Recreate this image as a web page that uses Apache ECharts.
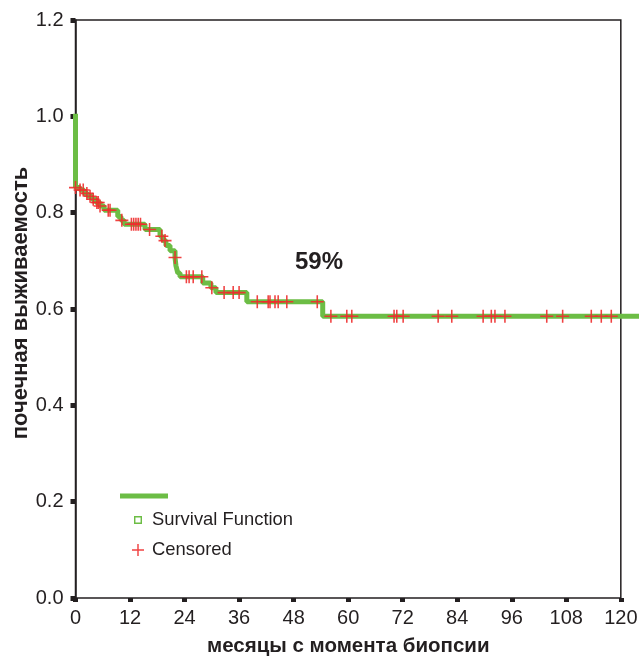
<!DOCTYPE html>
<html>
<head>
<meta charset="utf-8">
<script src="https://cdn.jsdelivr.net/npm/echarts@6/dist/echarts.min.js"></script>
<style>
html, body { margin: 0; padding: 0; background: #fff; }
#chart { width: 639px; height: 656px; }
</style>
</head>
<body>
<div id="chart"></div>
<script>
// Kaplan-Meier steps: [month, survival from that month on]
const survivalSteps = [
	[0, 1.0], [0, 0.852], [1.0, 0.847], [1.9, 0.840], [2.7, 0.834], [3.6, 0.828],
	[4.5, 0.821], [5.4, 0.814], [6.3, 0.805], [9.3, 0.792], [10.0, 0.784], [10.7, 0.776],
	[15.3, 0.765], [18.6, 0.751], [19.2, 0.742], [19.9, 0.732], [20.8, 0.721], [21.9, 0.707],
	[22.1, 0.690], [22.5, 0.675], [23.0, 0.667], [28.0, 0.654], [29.8, 0.644], [30.9, 0.634],
	[37.7, 0.615], [54.4, 0.585], [124, 0.585],
]
// months of censored cases
const censoredMonths = [
	0, 1.0, 1.7, 2.5, 3.2, 3.9, 4.7, 5.0, 5.4, 7.2, 7.6, 10.2, 12.3, 12.8, 13.3, 13.8, 14.3,
	16.3, 19.0, 19.7, 21.9, 24.4, 25.0, 25.9, 27.8, 30.0, 32.7, 34.7, 36.0, 40.0, 42.4, 42.8,
	43.9, 44.6, 46.5, 53.2, 56.2, 59.7, 60.8, 70.1, 70.7, 72.1, 79.8, 82.8, 89.7, 91.5, 92.3,
	94.5, 103.7, 107.2, 113.5, 115.7, 117.9,
]
const xTickValues = [0, 12, 24, 36, 48, 60, 72, 84, 96, 108, 120]
const xAxisEnd = 124 // the curve runs a little past the 120 frame
const yTicks = { min: 0, max: 1.2, interval: 0.2 }
const survivalLabel = '59%'

const green = '#6cbd45'
const red = '#ee2e2e'
const ink = '#231f20'
const font = '"Liberation Sans", Arial, sans-serif'
const plusIcon = 'path://M0,4.4h10v1.2h-10zM4.4,0h1.2v10h-1.2z'
const boxIcon = 'path://M0,0h10v10h-10zM1.8,1.8v6.4h6.4v-6.4z'

// survival at a given month (value of the last step at or before it)
function survivalAt(t) {
	let s = survivalSteps[0][1]
	for (const [m, v] of survivalSteps) {
		if (m <= t) s = v
	}
	return s
}

const censoredPoints = censoredMonths.map((m) => [m, survivalAt(m)])
const frameEnd = xTickValues[xTickValues.length - 1]

const chart = echarts.init(document.getElementById('chart'), null, { renderer: 'canvas' })

const option = {
	animation: false,
	grid: {
		left: 75.5,
		right: 0,
		top: 20,
		bottom: 58,
		outerBoundsMode: 'none',
		containLabel: false,
		show: false,
	},
	xAxis: {
		type: 'value',
		min: 0,
		max: xAxisEnd,
		interval: 12,
		name: 'месяцы с момента биопсии',
		nameLocation: 'middle',
		nameGap: 38,
		nameTextStyle: { fontFamily: font, fontWeight: 'bold', fontSize: 20.5, color: ink, padding: [0, 18, 0, 0] },
		axisLine: { show: false },
		axisTick: { show: true, length: 4, customValues: xTickValues, lineStyle: { color: ink, width: 5 } },
		axisLabel: { fontFamily: font, fontSize: 20, color: ink, margin: 10, customValues: xTickValues },
		splitLine: { show: false },
	},
	yAxis: {
		type: 'value',
		min: yTicks.min,
		max: yTicks.max,
		interval: yTicks.interval,
		name: 'почечная выживаемость',
		nameLocation: 'middle',
		nameMoveOverlap: false,
		nameGap: 44,
		nameTextStyle: { fontFamily: font, fontWeight: 'bold', fontSize: 22, color: ink, padding: [0, 0, 0, 12] },
		axisLine: { show: true, lineStyle: { color: ink, width: 1.5 } },
		axisTick: { show: true, length: 5, lineStyle: { color: ink, width: 5 } },
		axisLabel: {
			fontFamily: font,
			fontSize: 20,
			color: ink,
			margin: 12,
			formatter: (v) => v.toFixed(1),
		},
		splitLine: { show: false },
	},
	legend: [
		{
			data: [{ name: 'Survival Function', icon: boxIcon, itemStyle: { color: green } }],
			left: 129,
			top: 506,
			itemWidth: 8,
			itemHeight: 8,
			textStyle: { fontFamily: font, fontSize: 18.4, color: ink, padding: [0, 0, 0, 5] },
			selectedMode: false,
		},
		{
			data: [{ name: 'Censored', icon: plusIcon, itemStyle: { color: red } }],
			left: 127,
			top: 536,
			itemWidth: 12,
			itemHeight: 12,
			textStyle: { fontFamily: font, fontSize: 18.4, color: ink, padding: [0, 0, 0, 3] },
			selectedMode: false,
		},
	],
	graphic: [
		// line sample above the legend
		{
			type: 'line',
			shape: { x1: 120, y1: 496, x2: 168, y2: 496 },
			style: { stroke: green, lineWidth: 5 },
		},
		{
			type: 'text',
			left: 295,
			top: 250,
			style: { text: survivalLabel, fontFamily: font, fontWeight: 'bold', fontSize: 24, fill: ink },
		},
	],
	series: [
		{
			name: 'Survival Function',
			type: 'line',
			step: 'end',
			data: survivalSteps,
			showSymbol: false,
			clip: false,
			lineStyle: { color: green, width: 5, cap: 'square' },
			itemStyle: { color: green },
			z: 2,
		},
		{
			name: 'Censored',
			type: 'scatter',
			data: censoredPoints,
			symbol: plusIcon,
			symbolSize: 13,
			clip: false,
			itemStyle: { color: red, opacity: 0.9 },
			z: 3,
			// plot frame from 0 to 120 months
			markArea: {
				silent: true,
				itemStyle: { color: 'rgba(0,0,0,0)', borderColor: ink, borderWidth: 1.5 },
				data: [[{ coord: [0, yTicks.min] }, { coord: [frameEnd, yTicks.max] }]],
			},
		},
	],
}

chart.setOption(option)
</script>
</body>
</html>
